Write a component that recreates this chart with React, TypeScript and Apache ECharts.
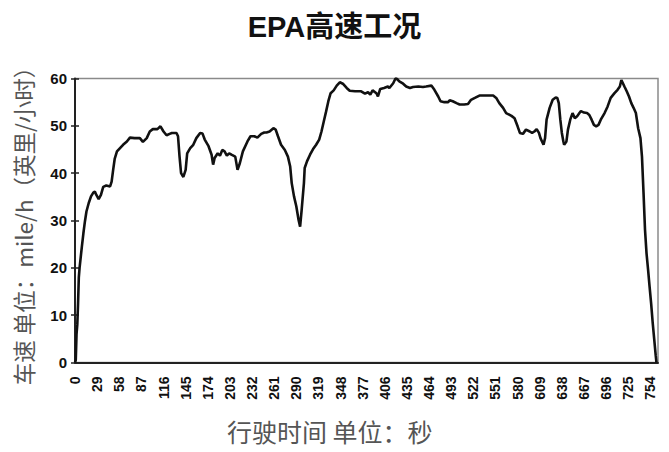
import React, { useEffect, useRef } from "react";
import * as echarts from "echarts";

const TITLE = "EPA高速工况";
const X_NAME = "行驶时间 单位：秒";
const Y_NAME = "车速 单位：mile/h（英里/小时）";

// time in seconds
const seconds: number[] = [
  0, 1, 2, 3, 4, 5, 6, 9, 11, 13, 15, 18, 21, 24, 26, 28, 31, 34, 37, 41, 46, 48, 50, 52, 55, 59,
  63, 68, 72, 78, 85, 89, 94, 98, 102, 108, 112, 116, 120, 124, 127, 133, 135, 137, 139, 142, 145,
  147, 151, 155, 159, 164, 167, 170, 175, 179, 181, 183, 187, 190, 193, 196, 199, 202, 205, 210,
  213, 216, 220, 226, 230, 235, 239, 244, 248, 251, 255, 260, 263, 266, 270, 275, 279, 282, 284,
  287, 290, 293, 295, 297, 300, 301, 304, 308, 312, 316, 320, 323, 326, 329, 332, 335, 339, 343,
  347, 351, 356, 360, 367, 375, 380, 384, 387, 390, 395, 397, 400, 405, 410, 412, 417, 420, 422,
  425, 430, 434, 439, 443, 450, 456, 460, 467, 471, 476, 479, 484, 489, 491, 495, 500, 504, 510,
  515, 519, 524, 530, 539, 548, 552, 556, 561, 565, 572, 576, 580, 583, 587, 591, 596, 599, 602,
  605, 608, 610, 612, 614, 616, 618, 622, 626, 630, 632, 634, 636, 638, 640, 641, 644, 646, 649,
  652, 655, 658, 661, 663, 667, 671, 674, 677, 680, 683, 686, 689, 694, 698, 702, 707, 711, 714,
  716, 720, 723, 726, 729, 732, 735, 738, 741, 743, 745, 747, 749, 751, 753, 755, 757, 759, 761, 762,
];

// speed in mile/h
const speeds: number[] = [
  0, 0.5, 6, 8, 12.5, 18, 20, 24.5, 27.3, 29.8, 31.9, 33.7, 35.1, 35.9, 36.1, 35.4, 34.5, 35.4,
  37.1, 37.4, 37.2, 38.2, 40.7, 43, 44.6, 45.3, 46, 46.7, 47.5, 47.4, 47.4, 46.6, 47.4, 48.8, 49.3,
  49.3, 49.9, 48.8, 48, 48.3, 48.5, 48.5, 47.8, 43.5, 40, 39.2, 40.7, 44.2, 45.3, 46, 47.4, 48.5,
  48.4, 47.1, 45.7, 43.9, 41.8, 43.2, 44.2, 43.7, 44.9, 44.6, 43.7, 44.2, 43.9, 43.5, 40.7, 42.1,
  44.6, 46.7, 47.8, 47.8, 47.5, 48.3, 48.6, 48.6, 48.8, 49.5, 49.2, 47.8, 46, 44.9, 43.5, 41.4,
  37.9, 35.1, 33, 30.1, 28.7, 32.2, 37.9, 41.1, 42.5, 43.9, 45.1, 46, 47.1, 48.8, 50.9, 53, 55.2,
  56.9, 57.5, 58.5, 59.2, 58.9, 58, 57.4, 57.3, 57.3, 56.8, 57.1, 56.6, 57.5, 56.9, 56.2, 57.8, 58,
  58.3, 58, 59, 60, 59.9, 59.4, 58.9, 58.3, 58, 58.2, 58.3, 58.2, 58.3, 58.5, 57.6, 56.2, 55.2, 55,
  55, 55.4, 55.2, 54.8, 54.5, 54.5, 54.6, 55.5, 55.9, 56.4, 56.4, 56.4, 55.9, 54.8, 53.8, 52.7,
  52.1, 51.6, 49.9, 48.5, 48.3, 49.2, 48.8, 48.5, 48.8, 49.3, 48.5, 47.4, 46.7, 46, 47.4, 51.3,
  53.8, 55.5, 56, 55.9, 54.8, 51.3, 48.5, 46.7, 46, 46.7, 49.2, 51.3, 52.7, 51.6, 52, 52.7, 53.1,
  52.8, 52.7, 52.3, 51.3, 50.2, 49.9, 50.2, 51.3, 52.7, 54.1, 55.9, 56.9, 57.6, 58.3, 59.7, 58.3,
  57.3, 56.2, 54.8, 53.8, 52.7, 49.5, 47.4, 43.5, 36, 28, 23, 19.6, 16, 12.5, 8.5, 5, 1.5, 0,
];

const X_MIN = 0;
const X_MAX = 764;
const X_STEP = 29;
const Y_MIN = 0;
const Y_MAX = 60;
const Y_STEP = 10;

const LATIN = "'Liberation Sans', Arial, sans-serif";
const CJK = "'Noto Sans CJK SC', 'Liberation Sans', sans-serif";

export default function App() {
  const ref = useRef<HTMLDivElement>(null);

  useEffect(() => {
    if (!ref.current) return;
    const chart = echarts.init(ref.current, undefined, { renderer: "svg" });
    const data = seconds.map((t, i) => [t, speeds[i]]);

    chart.setOption({
      animation: false,
      backgroundColor: "#ffffff",
      title: {
        text: TITLE,
        left: "center",
        top: 7,
        textStyle: {
          fontSize: 29,
          fontWeight: "bold",
          color: "#111111",
          fontFamily: "'Liberation Sans', 'Noto Sans CJK SC', sans-serif",
        },
      },
      graphic: [
        {
          type: "text",
          left: 227,
          top: 418,
          style: {
            text: X_NAME,
            fontSize: 25,
            fill: "#555555",
            fontFamily: CJK,
          },
        },
      ],
      grid: {
        left: 75,
        right: 11,
        top: 78.5,
        bottom: 89.5,
        containLabel: false,
        outerBoundsMode: "none",
        show: true,
        borderColor: "#8a8a8a",
        borderWidth: 1.5,
        backgroundColor: "transparent",
      },
      xAxis: {
        type: "value",
        min: X_MIN,
        max: X_MAX,
        interval: X_STEP,
        axisLine: { show: true, lineStyle: { color: "#222222", width: 2 } },
        axisTick: { show: false },
        splitLine: { show: false },
        axisLabel: {
          rotate: 90,
          margin: 14,
          showMaxLabel: false,
          fontSize: 14,
          fontWeight: "bold",
          color: "#111111",
          fontFamily: LATIN,
        },
      },
      yAxis: [
        {
          type: "value",
          min: Y_MIN,
          max: Y_MAX,
          interval: Y_STEP,
          name: Y_NAME,
          nameLocation: "middle",
          nameGap: 41,
          nameTextStyle: { fontSize: 22.5, color: "#555555", fontFamily: CJK },
          axisLine: { show: true, lineStyle: { color: "#222222", width: 2 } },
          axisTick: { show: true, inside: false, length: 4, lineStyle: { color: "#222222", width: 1.5 } },
          splitLine: { show: false },
          axisLabel: {
            margin: 8,
            fontSize: 15,
            fontWeight: "bold",
            color: "#111111",
            fontFamily: LATIN,
          },
        },
        {
          type: "value",
          min: Y_MIN,
          max: Y_MAX,
          interval: Y_STEP,
          position: "left",
          axisLine: { show: false },
          axisTick: { show: true, inside: true, length: 4, lineStyle: { color: "#222222", width: 1.5 } },
          axisLabel: { show: false },
          splitLine: { show: false },
        },
      ],
      series: [
        {
          type: "line",
          data,
          showSymbol: false,
          symbol: "none",
          clip: false,
          lineStyle: { color: "#111111", width: 2.6 },
        },
      ],
    });

    return () => chart.dispose();
  }, []);

  return (
    <div
      ref={ref}
      style={{ position: "fixed", left: 0, top: 0, width: 669, height: 452, background: "#fff" }}
    />
  );
}
